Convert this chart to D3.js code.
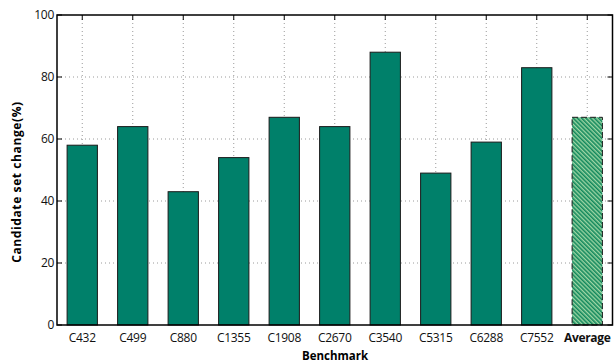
<!DOCTYPE html>
<html>
<head>
<meta charset="utf-8">
<script src="https://cdn.jsdelivr.net/npm/d3@7"></script>
<style>
  body { margin: 0; background: #fff; }
  svg { display: block; }
  text { font-family: "Open Sans", Lato, sans-serif; }
</style>
</head>
<body>
<svg id="chart" width="616" height="362"></svg>
<script>
const categories = ["C432", "C499", "C880", "C1355", "C1908", "C2670", "C3540", "C5315", "C6288", "C7552", "Average"];
const values = [58, 64, 43, 54, 67, 64, 88, 49, 59, 83, 67];
const yTicks = [0, 20, 40, 60, 80, 100];

const W = 616, H = 362;
const m = { left: 57, right: 3.5, top: 15, bottom: 37 };
const svg = d3.select("#chart");

const x = d3.scaleBand().domain(categories).range([m.left, W - m.right]).paddingInner(0.4).paddingOuter(0.2);
const y = d3.scaleLinear().domain([0, 100]).range([H - m.bottom, m.top]);

// hatch pattern for the summary bar
const defs = svg.append("defs");
const pat = defs.append("pattern").attr("id", "hatch").attr("patternUnits", "userSpaceOnUse")
  .attr("width", 3).attr("height", 3).attr("patternTransform", "rotate(-45)");
pat.append("rect").attr("width", 3).attr("height", 3).attr("fill", "#9ed6a4");
pat.append("rect").attr("width", 1.6).attr("height", 3).attr("fill", "#12885c");

// grid
const grid = svg.append("g").attr("stroke", "#9a9a9a").attr("stroke-width", 1).attr("stroke-dasharray", "1,3");
grid.selectAll("line.h").data(yTicks.filter(d => d > 0 && d < 100)).join("line")
  .attr("x1", m.left).attr("x2", W - m.right).attr("y1", d => y(d)).attr("y2", d => y(d));
grid.selectAll("line.v").data(categories).join("line")
  .attr("x1", d => x(d) + x.bandwidth() / 2).attr("x2", d => x(d) + x.bandwidth() / 2)
  .attr("y1", m.top).attr("y2", H - m.bottom);

// bars
const last = categories[categories.length - 1];
svg.append("g").selectAll("rect").data(categories).join("rect")
  .attr("x", d => x(d)).attr("width", x.bandwidth())
  .attr("y", (d, i) => y(values[i])).attr("height", (d, i) => y(0) - y(values[i]))
  .attr("fill", d => d === last ? "url(#hatch)" : "#00806a")
  .attr("stroke", "#1a1a1a").attr("stroke-width", 1)
  .attr("stroke-dasharray", d => d === last ? "6,3" : null);

// frame
svg.append("rect").attr("x", m.left).attr("y", m.top)
  .attr("width", W - m.right - m.left).attr("height", H - m.bottom - m.top)
  .attr("fill", "none").attr("stroke", "#000").attr("stroke-width", 1.5);

// inward ticks
const tk = svg.append("g").attr("stroke", "#000").attr("stroke-width", 1);
yTicks.forEach(t => {
  tk.append("line").attr("x1", m.left).attr("x2", m.left + 5).attr("y1", y(t)).attr("y2", y(t));
  tk.append("line").attr("x1", W - m.right).attr("x2", W - m.right - 5).attr("y1", y(t)).attr("y2", y(t));
});
categories.forEach(c => {
  const cx = x(c) + x.bandwidth() / 2;
  tk.append("line").attr("x1", cx).attr("x2", cx).attr("y1", m.top).attr("y2", m.top + 5);
});

// y tick labels
svg.append("g").selectAll("text").data(yTicks).join("text")
  .attr("x", m.left - 3).attr("y", d => y(d)).attr("dy", "0.35em")
  .attr("text-anchor", "end").attr("font-size", 12).attr("fill", "#111")
  .attr("letter-spacing", -0.3)
  .text(d => d);

// x tick labels
svg.append("g").selectAll("text").data(categories).join("text")
  .attr("x", d => x(d) + x.bandwidth() / 2).attr("y", 342)
  .attr("text-anchor", "middle").attr("font-size", 12).attr("fill", "#111")
  .attr("letter-spacing", -0.3)
  .attr("font-weight", d => d === last ? "bold" : null)
  .text(d => d);

// axis titles
svg.append("text").attr("x", 335).attr("y", 359.5)
  .attr("text-anchor", "middle").attr("font-size", 11.5).attr("font-weight", "bold").text("Benchmark");
svg.append("text").attr("transform", "translate(21,182) rotate(-90)")
  .attr("text-anchor", "middle").attr("font-size", 12).attr("font-weight", "bold")
  .attr("letter-spacing", 0.6).text("Candidate set change(%)");
</script>
</body>
</html>
